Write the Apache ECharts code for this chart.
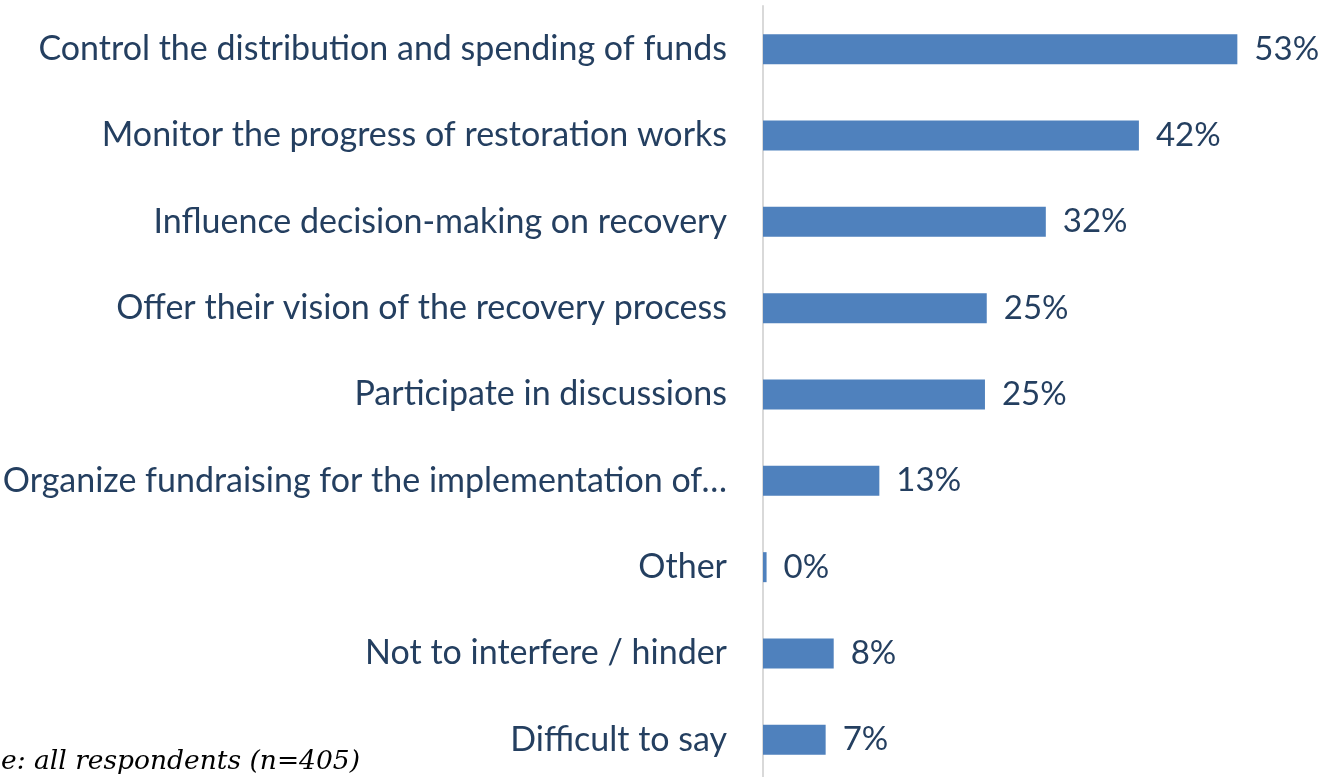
<!DOCTYPE html>
<html>
<head>
<meta charset="utf-8">
<script src="https://cdn.jsdelivr.net/npm/echarts@6/dist/echarts.min.js"></script>
<style>
  html, body { margin: 0; padding: 0; background: #fff; }
  #chart { width: 1323px; height: 777px; }
</style>
</head>
<body>
<div id="chart"></div>
<script>
// categories top to bottom
const categories = [
  'Control the distribution and spending of funds',
  'Monitor the progress of restoration works',
  'Influence decision-making on recovery',
  'Offer their vision of the recovery process',
  'Participate in discussions',
  'Organize fundraising for the implementation of\u2026',
  'Other',
  'Not to interfere / hinder',
  'Difficult to say'
];
const values = [53, 42, 31.6, 25, 24.8, 13, 0.4, 7.9, 7];
const valueLabels = ['53%', '42%', '32%', '25%', '25%', '13%', '0%', '8%', '7%'];
const footnote = 'Base: all respondents (n=405)';

const textColor = '#243f60';
const barColor = '#4f81bd';

const chart = echarts.init(document.getElementById('chart'));

const option = {
  animation: false,
  backgroundColor: '#ffffff',
  grid: {
    left: 763, top: 6, width: 537, height: 777,
    containLabel: false,
    outerBoundsMode: 'none'
  },
  xAxis: {
    type: 'value',
    min: 0,
    max: 60,
    show: false
  },
  yAxis: {
    type: 'category',
    inverse: true,
    data: categories,
    axisLine: { show: true, lineStyle: { color: '#d9d9d9', width: 2 } },
    axisTick: { show: false },
    axisLabel: {
      margin: 36,
      color: textColor,
      fontFamily: 'Lato',
      fontSize: 34
    }
  },
  series: [
    {
      type: 'bar',
      data: values,
      barWidth: 30,
      itemStyle: { color: barColor },
      label: {
        show: true,
        position: 'right',
        distance: 17,
        color: textColor,
        fontFamily: 'Lato',
        fontSize: 33,
        formatter: (p) => valueLabels[p.dataIndex]
      }
    }
  ],
  graphic: [
    {
      type: 'text',
      x: 360,
      y: 762,
      style: {
        text: footnote,
        fill: '#000',
        font: 'italic 26.5px "DejaVu Serif"',
        textAlign: 'right',
        textVerticalAlign: 'middle'
      }
    }
  ]
};

chart.setOption(option);
</script>
</body>
</html>
